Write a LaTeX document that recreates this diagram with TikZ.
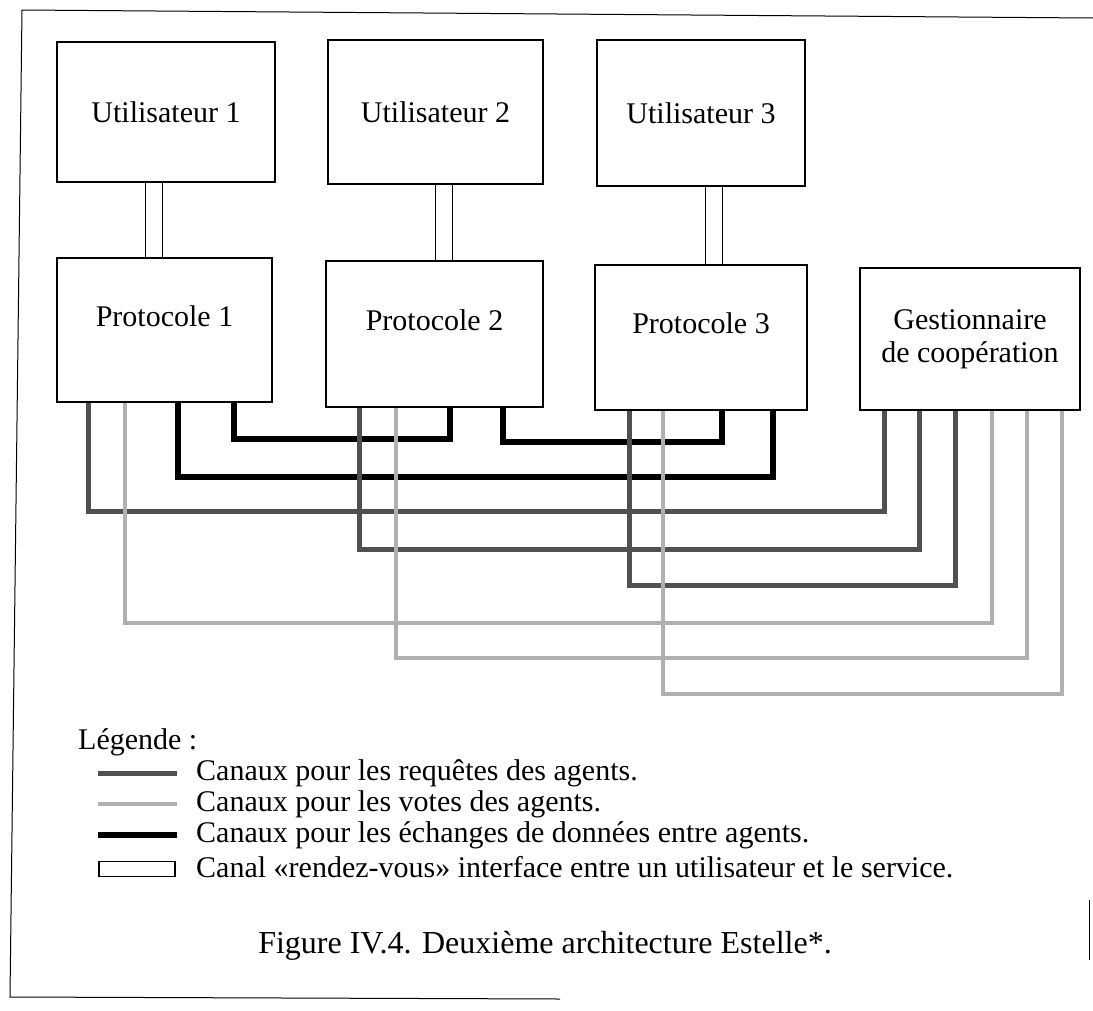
\documentclass[tikz,border=0pt]{standalone}
\usepackage{fontspec}
\setmainfont{Liberation Serif}
\usetikzlibrary{calc, backgrounds}
\definecolor{reqgray}{HTML}{505050}
\definecolor{votegray}{HTML}{B0B0B0}

\begin{document}
\begin{tikzpicture}[x=1pt, y=-1pt, font=\fontsize{30}{33}\selectfont,
  box/.style={draw, line width=1.2pt, inner sep=0pt, align=center},
  proto/.style={box, text height=19pt, text depth=27pt},
  rdv/.style={line width=1.2pt, double, double distance=16pt},
  data/.style={line width=6pt, black},
  req/.style={line width=5pt, reqgray},
  vote/.style={line width=4pt, votegray},
  legtext/.style={anchor=west, inner sep=0pt}]
\useasboundingbox (0,0) rectangle (1093,1010);

% cadre de la page
\draw[line width=1pt] (1093,18) -- (22,10) -- (10,997) -- (560,999);
\draw[line width=1pt] (1089,900) -- (1089,960);

% utilisateurs
\node[box, minimum width=218pt, minimum height=140pt] (u1) at (166,112) {Utilisateur 1};
\node[box, minimum width=215pt, minimum height=144pt] (u2) at (435.5,112) {Utilisateur 2};
\node[box, minimum width=208pt, minimum height=146pt] (u3) at (701,113) {Utilisateur 3};

% protocoles et gestionnaire
\node[proto, minimum width=215pt, minimum height=144pt] (p1) at (164.5,330) {Protocole 1};
\node[proto, minimum width=217pt, minimum height=146pt] (p2) at (434.5,334) {Protocole 2};
\node[proto, minimum width=212pt, minimum height=145pt] (p3) at (701,337.5) {Protocole 3};
\node[box, minimum width=220pt, minimum height=142pt] (gest) at (970,339) {Gestionnaire\\de coopération};

% canaux rendez-vous
\begin{scope}[on background layer]
\draw[rdv] ($(u1.south)+(-12,0)$) coordinate (c1) -- (c1 |- p1.north);
\draw[rdv] ($(u2.south)+(8.5,0)$) coordinate (c2) -- (c2 |- p2.north);
\draw[rdv] ($(u3.south)+(13,0)$) coordinate (c3) -- (c3 |- p3.north);
\end{scope}

% echanges de donnees
\draw[data] ($(p1.south)+(69.5,0)$) -- ++(0,36) -| ($(p2.south)+(15.5,0)$);
\draw[data] ($(p2.south)+(68.5,0)$) -- ++(0,34) -| ($(p3.south)+(21,0)$);
\draw[data] ($(p1.south)+(13.5,0)$) -- ++(0,74) -| ($(p3.south)+(72,0)$);

% requetes
\draw[req] ($(p1.south)+(-76.5,0)$) -- ++(0,109) -| ($(gest.south)+(-86,0)$);
\draw[req] ($(p2.south)+(-75.5,0)$) -- ++(0,142) -| ($(gest.south)+(-51,0)$);
\draw[req] ($(p3.south)+(-72,0)$) -- ++(0,175) -| ($(gest.south)+(-15,0)$);

% votes
\draw[vote] ($(p1.south)+(-39.5,0)$) -- ++(0,220) -| ($(gest.south)+(22,0)$);
\draw[vote] ($(p2.south)+(-38.5,0)$) -- ++(0,250) -| ($(gest.south)+(57,0)$);
\draw[vote] ($(p3.south)+(-38,0)$) -- ++(0,283) -| ($(gest.south)+(92,0)$);

% legende
\node[legtext] (leg) at (78,742) {Légende :};
\node[legtext] (lreq) at (196,773) {Canaux pour les requêtes des agents.};
\node[legtext] (lvote) at (196,804) {Canaux pour les votes des agents.};
\node[legtext] (ldata) at (196,835) {Canaux pour les échanges de données entre agents.};
\node[legtext] (lrdv) at (196,867) {Canal «rendez-vous» interface entre un utilisateur et le service.};
\draw[req] ($(lreq.west)+(-98,0)$) -- ++(79,0);
\draw[vote] ($(lvote.west)+(-98,0)$) -- ++(79,0);
\draw[data] ($(ldata.west)+(-98,0)$) -- ++(79,0);
\node[draw, line width=1.2pt, minimum width=76pt, minimum height=15pt, inner sep=0pt] (lrdvbox) at ($(lrdv.west)+(-59,2)$) {};

\node[font=\fontsize{32}{36}\selectfont] (cap) at (545,946) {Figure IV.4. Deuxième architecture Estelle*.};
\end{tikzpicture}
\end{document}
